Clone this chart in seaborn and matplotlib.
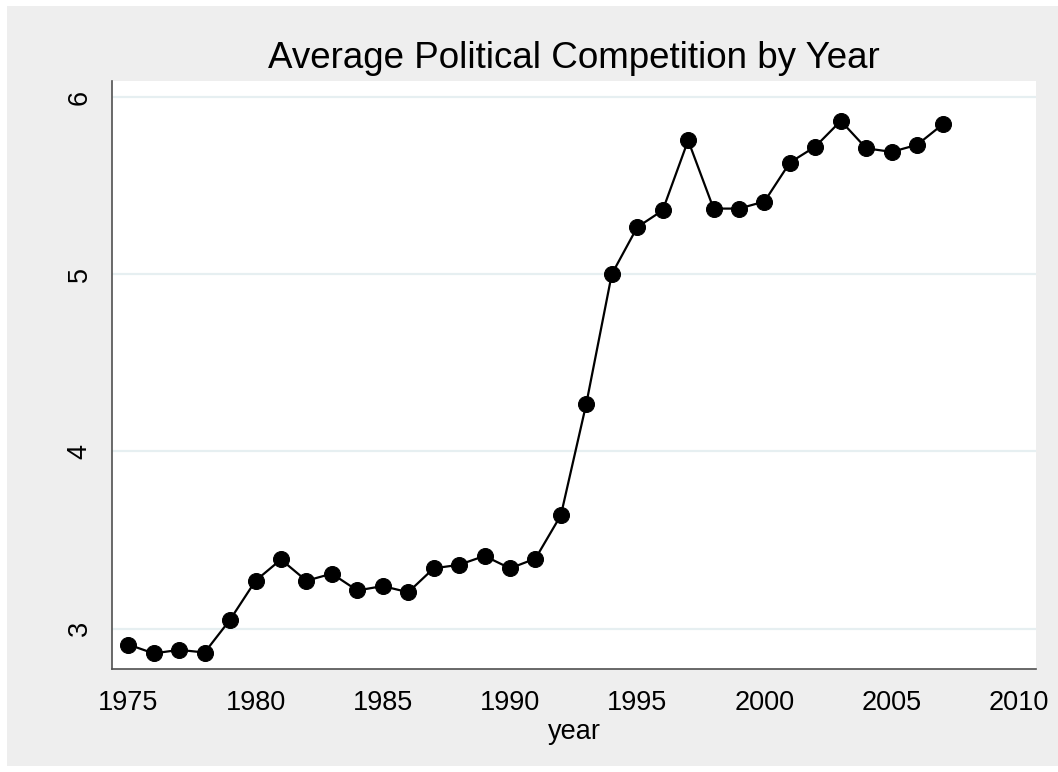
import numpy as np
import pandas as pd
import matplotlib
matplotlib.use("Agg")
import matplotlib.pyplot as plt
from matplotlib.patches import Rectangle
import seaborn as sns


years = list(range(1975, 2008))
avg_competition = [
    2.91, 2.86, 2.88, 2.865, 3.05, 3.27, 3.39, 3.27, 3.31, 3.215,
    3.24, 3.205, 3.34, 3.36, 3.41, 3.34, 3.395, 3.64, 4.27, 5.00,
    5.265, 5.36, 5.755, 5.37, 5.37, 5.41, 5.63, 5.72, 5.865, 5.71,
    5.69, 5.73, 5.845,
]
x_ticks = [1975, 1980, 1985, 1990, 1995, 2000, 2005, 2010]
y_ticks = [3, 4, 5, 6]

BG = "#eeeeee"
GRID = "#e6eff1"
SPINE = "#505050"

sns.set_style("white")
plt.rcParams["font.family"] = ["Liberation Sans", "DejaVu Sans"]
plt.rcParams["text.color"] = "black"
plt.rcParams["axes.labelcolor"] = "black"

df = pd.DataFrame({"year": years, "competition": avg_competition})

fig = plt.figure(figsize=(10.58, 7.72), dpi=100)
fig.patch.set_facecolor("white")
# grey graph region inside a thin white border
fig.add_artist(Rectangle((7 / 1058, 6 / 772), 1.0, 760 / 772,
                         transform=fig.transFigure, facecolor=BG,
                         edgecolor="none", zorder=-10))

ax = fig.add_axes([112 / 1058, 103 / 772, 924 / 1058, 588 / 772])
ax.set_facecolor("white")

sns.lineplot(data=df, x="year", y="competition", ax=ax, color="black",
             linewidth=1.6, marker="o", markersize=11.5,
             markeredgecolor="black", markerfacecolor="black", zorder=3)

ax.set_xlim(1974.36, 2010.67)
ax.set_ylim(2.772, 6.09)
ax.set_xticks(x_ticks)
ax.set_yticks(y_ticks)
ax.set_yticklabels([str(v) for v in y_ticks], rotation=90, va="center")

ax.yaxis.grid(True, color=GRID, linewidth=1.6)
ax.xaxis.grid(False)
ax.set_axisbelow(True)

for side in ["top", "right"]:
    ax.spines[side].set_visible(False)
for side in ["left", "bottom"]:
    ax.spines[side].set_color(SPINE)
    ax.spines[side].set_linewidth(1.2)

ax.tick_params(axis="both", direction="out", length=8, width=1,
               color=SPINE, labelsize=19.5, labelcolor="black")
ax.tick_params(axis="x", pad=7)
ax.tick_params(axis="y", pad=6)

ax.set_xlabel("year", fontsize=19.5, labelpad=2)
ax.set_ylabel("")
ax.set_title("Average Political Competition by Year", fontsize=26.5,
             color="black", pad=9)

fig.savefig("out.png", dpi=100, facecolor=fig.get_facecolor())
